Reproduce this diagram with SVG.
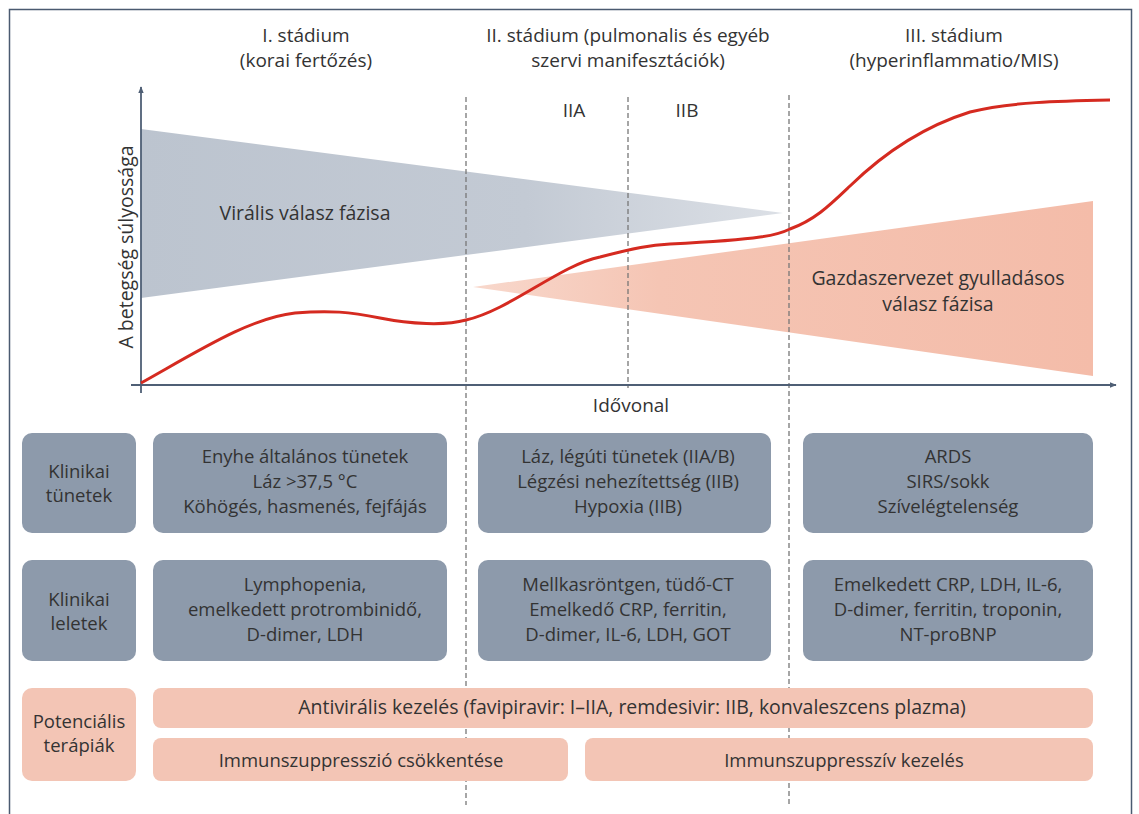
<svg xmlns="http://www.w3.org/2000/svg" width="1139" height="814" viewBox="0 0 1139 814">
<defs>
<style>
text{font-family:"Open Sans",Lato,"Liberation Sans",sans-serif;fill:#333;text-anchor:middle}
.h{font-size:19px}
.c{font-size:19.5px}
.t{font-size:18.5px}
.g{fill:#8d9aab}
.p{fill:#f3c5b5}
.dash{stroke:#777;stroke-width:1.3;stroke-dasharray:5 3;fill:none}
.axis{stroke:#4f5f75;stroke-width:1.8;fill:none}
</style>
<linearGradient id="gg" x1="0" y1="0" x2="1" y2="0">
<stop offset="0" stop-color="#bcc4cf"/><stop offset="0.6" stop-color="#c3cad4"/><stop offset="1" stop-color="#dce0e6"/>
</linearGradient>
<linearGradient id="pg" x1="0" y1="0" x2="1" y2="0">
<stop offset="0" stop-color="#f8d8cc"/><stop offset="0.3" stop-color="#f5c5b4"/><stop offset="1" stop-color="#f4bca9"/>
</linearGradient>
<marker id="ar" viewBox="0 0 10 10" refX="9" refY="5" markerWidth="7" markerHeight="7" orient="auto-start-reverse" markerUnits="userSpaceOnUse">
<path d="M0,1 L10,5 L0,9 z" fill="#4f5f75"/>
</marker>
</defs>
<rect x="0" y="0" width="1139" height="814" fill="#fff"/>
<rect x="9.5" y="9.5" width="1122" height="815" fill="none" stroke="#4a5a70" stroke-width="1.5"/>

<g id="phases">
<polygon points="141,129 783,213 141,298" fill="url(#gg)"/>
<polygon points="473,287 1093,201 1093,376" fill="url(#pg)"/>
</g>

<g id="headers">
<text class="h" x="306" y="42">I. stádium</text>
<text class="h" x="306" y="67">(korai fertőzés)</text>
<text class="h" x="628" y="42">II. stádium (pulmonalis és egyéb</text>
<text class="h" x="628" y="67">szervi manifesztációk)</text>
<text class="h" x="954" y="42">III. stádium</text>
<text class="h" x="954" y="67">(hyperinflammatio/MIS)</text>
<text class="h" x="574" y="117">IIA</text>
<text class="h" x="687" y="117">IIB</text>
<text class="c" x="305" y="220">Virális válasz fázisa</text>
<text class="c" x="938" y="285">Gazdaszervezet gyulladásos</text>
<text class="c" x="938" y="311">válasz fázisa</text>
<text class="h" x="631" y="412">Idővonal</text>
<text class="c" transform="translate(133,247) rotate(-90)">A betegség súlyossága</text>
</g>

<g id="connectors">
<line class="dash" x1="466" y1="97" x2="466" y2="805"/>
<line class="dash" x1="628" y1="97" x2="628" y2="388"/>
<line class="dash" x1="789" y1="95" x2="789" y2="805"/>
<line class="axis" x1="141" y1="393" x2="141" y2="87" marker-end="url(#ar)"/>
<line class="axis" x1="131" y1="385" x2="1116" y2="385" marker-end="url(#ar)"/>
<path d="M141,383 C200,350 250,318 295,313 C330,310 350,312 380,318 C410,324 445,326 466,320 C510,310 560,265 600,257 C635,248 650,245 670,244 C710,242 740,240 760,237 C775,235 782,233 790,229 C815,220 830,205 850,186 C885,152 925,126 970,112 C1010,102 1060,101 1110,100" fill="none" stroke="#d52a20" stroke-width="3"/>
</g>

<g id="n-label-symptoms"><rect class="g" x="22" y="433" width="114" height="100" rx="10"/>
<text class="t" x="79" y="478">Klinikai</text><text class="t" x="79" y="502">tünetek</text></g>
<g id="n-sym-1"><rect class="g" x="153" y="433" width="294" height="100" rx="10"/>
<text class="t" x="305" y="463">Enyhe általános tünetek</text><text class="t" x="305" y="488">Láz &gt;37,5 °C</text><text class="t" x="305" y="513">Köhögés, hasmenés, fejfájás</text></g>
<g id="n-sym-2"><rect class="g" x="478" y="433" width="293" height="100" rx="10"/>
<text class="t" x="628" y="463">Láz, légúti tünetek (IIA/B)</text><text class="t" x="628" y="488">Légzési nehezítettség (IIB)</text><text class="t" x="628" y="513">Hypoxia (IIB)</text></g>
<g id="n-sym-3"><rect class="g" x="803" y="433" width="290" height="100" rx="10"/>
<text class="t" x="948" y="463">ARDS</text><text class="t" x="948" y="488">SIRS/sokk</text><text class="t" x="948" y="513">Szívelégtelenség</text></g>

<g id="n-label-findings"><rect class="g" x="22" y="560" width="114" height="101" rx="10"/>
<text class="t" x="79" y="606">Klinikai</text><text class="t" x="79" y="630">leletek</text></g>
<g id="n-find-1"><rect class="g" x="153" y="560" width="294" height="101" rx="10"/>
<text class="t" x="305" y="591">Lymphopenia,</text><text class="t" x="305" y="616">emelkedett protrombinidő,</text><text class="t" x="305" y="641">D-dimer, LDH</text></g>
<g id="n-find-2"><rect class="g" x="478" y="560" width="293" height="101" rx="10"/>
<text class="t" x="628" y="591">Mellkasröntgen, tüdő-CT</text><text class="t" x="628" y="616">Emelkedő CRP, ferritin,</text><text class="t" x="628" y="641">D-dimer, IL-6, LDH, GOT</text></g>
<g id="n-find-3"><rect class="g" x="803" y="560" width="290" height="101" rx="10"/>
<text class="t" x="948" y="591">Emelkedett CRP, LDH, IL-6,</text><text class="t" x="948" y="616">D-dimer, ferritin, troponin,</text><text class="t" x="948" y="641">NT-proBNP</text></g>

<g id="n-label-therapy"><rect class="p" x="22" y="688" width="114" height="93" rx="10"/>
<text class="t" x="79" y="728">Potenciális</text><text class="t" x="79" y="752">terápiák</text></g>
<g id="n-antiviral"><rect class="p" x="153" y="688" width="940" height="40" rx="8"/>
<text class="c" x="632" y="714">Antivirális kezelés (favipiravir: I–IIA, remdesivir: IIB, konvaleszcens plazma)</text></g>
<g id="n-immred"><rect class="p" x="153" y="738" width="415" height="43" rx="8"/>
<text class="t" x="361" y="767">Immunszuppresszió csökkentése</text></g>
<g id="n-immsupp"><rect class="p" x="585" y="738" width="508" height="43" rx="8"/>
<text class="t" x="844" y="767">Immunszuppresszív kezelés</text></g>
</svg>
